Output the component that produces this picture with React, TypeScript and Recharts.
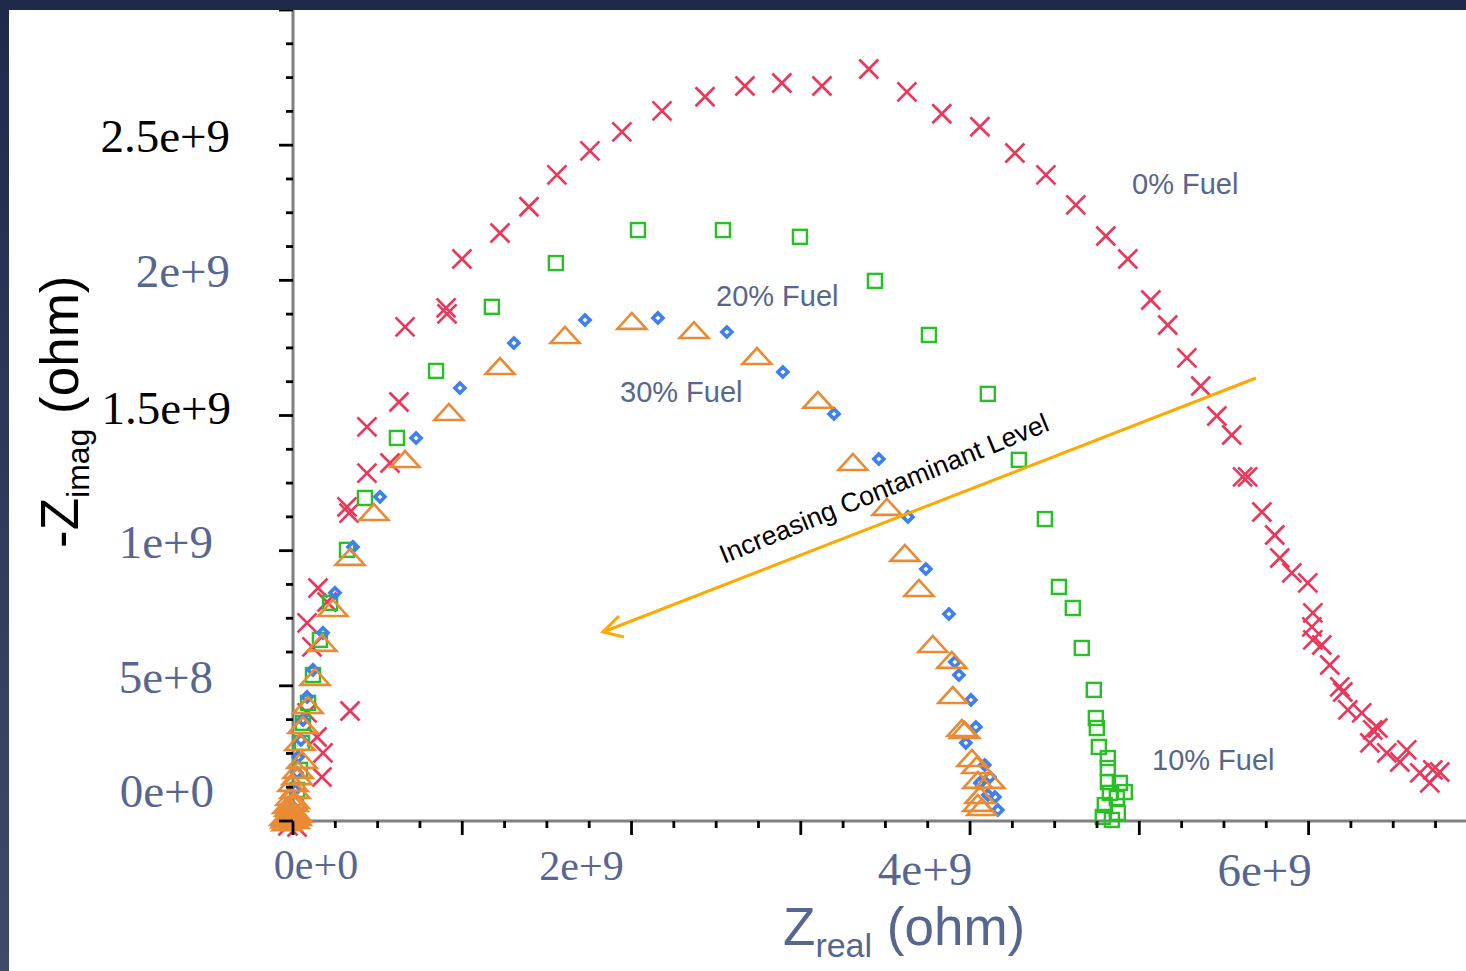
import React from "react";
import { ScatterChart, Scatter, XAxis, YAxis } from "recharts";

// impedance points in units of 1e9 ohm: [Zreal, -Zimag]
const fuel0: [number, number][] = [
  [-0.03, -0.018], [0.024, -0.022], [0.171, 0.163], [0.177, 0.252], [0.142, 0.311],
  [0.083, 0.4], [0.337, 0.407], [0.112, 0.644], [0.083, 0.733], [0.201, 0.81],
  [0.148, 0.862], [0.319, 1.162], [0.331, 1.139], [0.437, 1.287], [0.573, 1.324],
  [0.437, 1.458], [0.626, 1.55], [0.662, 1.828], [0.904, 1.898], [0.91, 1.876],
  [0.998, 2.079], [1.223, 2.175], [1.394, 2.272], [1.559, 2.39], [1.754, 2.479],
  [1.943, 2.549], [2.18, 2.627], [2.434, 2.679], [2.67, 2.719], [2.888, 2.73],
  [3.125, 2.719], [3.402, 2.782], [3.627, 2.697], [3.833, 2.616], [4.058, 2.568],
  [4.265, 2.471], [4.448, 2.39], [4.625, 2.279], [4.802, 2.164], [4.932, 2.079],
  [5.068, 1.927], [5.168, 1.835], [5.281, 1.713], [5.363, 1.609], [5.458, 1.498],
  [5.546, 1.428], [5.61, 1.273], [5.64, 1.273], [5.724, 1.143], [5.8, 1.058],
  [5.83, 0.973], [5.901, 0.918], [5.995, 0.881], [6.025, 0.77], [6.019, 0.718],
  [6.025, 0.67], [6.078, 0.651], [6.125, 0.577], [6.184, 0.496], [6.202, 0.477],
  [6.232, 0.411], [6.314, 0.4], [6.379, 0.337], [6.409, 0.344], [6.362, 0.289],
  [6.462, 0.252], [6.58, 0.263], [6.539, 0.218], [6.657, 0.178], [6.734, 0.189],
  [6.716, 0.141], [6.775, 0.181],
];

const fuel10: [number, number][] = [
  [-0.018, 0.004], [0.018, 0.059], [0.024, 0.115], [0.041, 0.189], [0.053, 0.289],
  [0.059, 0.363], [0.089, 0.437], [0.118, 0.54], [0.159, 0.67], [0.219, 0.807],
  [0.319, 1.003], [0.425, 1.195], [0.614, 1.417], [0.845, 1.665], [1.175, 1.902],
  [1.553, 2.064], [2.038, 2.186], [2.54, 2.186], [2.995, 2.161], [3.438, 1.998],
  [3.757, 1.798], [4.105, 1.58], [4.288, 1.336], [4.442, 1.117], [4.525, 0.866],
  [4.607, 0.788], [4.66, 0.64], [4.731, 0.485], [4.743, 0.381], [4.749, 0.344],
  [4.761, 0.274], [4.814, 0.233], [4.814, 0.196], [4.814, 0.144], [4.885, 0.141],
  [4.914, 0.107], [4.826, 0.104], [4.867, 0.085], [4.796, 0.059], [4.873, 0.03],
  [4.838, 0.004], [4.784, 0.015],
];

const fuel20: [number, number][] = [
  [0.006, 0.048], [0.012, 0.115], [0.024, 0.178], [0.03, 0.237], [0.047, 0.3],
  [0.059, 0.374], [0.083, 0.459], [0.118, 0.559], [0.177, 0.696], [0.248, 0.844],
  [0.354, 1.014], [0.514, 1.199], [0.727, 1.417], [0.986, 1.602], [1.305, 1.768],
  [1.725, 1.853], [2.156, 1.861], [2.563, 1.809], [2.894, 1.661], [3.196, 1.506],
  [3.461, 1.339], [3.633, 1.125], [3.739, 0.932], [3.875, 0.766], [3.91, 0.588],
  [3.934, 0.54], [4.005, 0.448], [4.034, 0.348], [3.975, 0.289], [4.087, 0.207],
  [4.117, 0.163], [4.058, 0.141], [4.105, 0.096], [4.147, 0.089], [4.164, 0.041],
];

const fuel30: [number, number][] = [
  [-0.035, -0.004], [-0.024, 0.011], [-0.006, 0.022], [0.012, 0.033], [-0.018, 0.048],
  [-0.041, 0.006], [-0.03, 0.018], [0.006, 0.004], [0.018, 0.015], [-0.012, 0.037],
  [-0.047, 0.015], [0.024, 0.026], [-0.03, 0.059], [0.006, 0.078],
  [0.0, 0.067], [-0.012, 0.089], [0.012, 0.115], [0.0, 0.141], [0.024, 0.166],
  [0.03, 0.189], [0.053, 0.226], [0.041, 0.292], [0.059, 0.355], [0.089, 0.429],
  [0.13, 0.533], [0.171, 0.659], [0.236, 0.788], [0.337, 0.977], [0.478, 1.143],
  [0.662, 1.339], [0.921, 1.513], [1.223, 1.683], [1.607, 1.798], [2.002, 1.85],
  [2.369, 1.816], [2.741, 1.72], [3.101, 1.558], [3.308, 1.328], [3.509, 1.162],
  [3.615, 0.992], [3.698, 0.862], [3.78, 0.655], [3.892, 0.596], [3.898, 0.466],
  [3.952, 0.344], [3.969, 0.337], [4.011, 0.233], [4.04, 0.207], [4.046, 0.152],
  [4.117, 0.152], [4.058, 0.096], [4.046, 0.067], [4.07, 0.052],
];

const xTickLabels: Record<number, string> = { 0: "0e+0", 2: "2e+9", 4: "4e+9", 6: "6e+9" };
const yTickLabels: Record<number, string> = {
  0: "0e+0", 0.5: "5e+8", 1: "1e+9", 1.5: "1.5e+9", 2: "2e+9", 2.5: "2.5e+9",
};

const xTicks = Array.from({ length: 28 }, (_, i) => i * 0.25);
const yTicks = Array.from({ length: 25 }, (_, i) => i * 0.125);

const SLATE = "#57668f";
const RED = "#e8385b";
const GREEN = "#27c026";
const BLUE = "#3f80ee";
const ORANGE = "#e98b34";
const SERIF = "'Liberation Serif', 'Times New Roman', serif";
const SANS = "'Liberation Sans', Arial, sans-serif";

const toPoints = (arr: [number, number][]) => arr.map(([x, y]) => ({ x, y }));

// the labels of the original sit a little off their ticks
const xLabelLook: Record<number, { dx: number; dy: number; size: number }> = {
  0: { dx: 23, dy: 58, size: 42 },
  2: { dx: -50, dy: 59, size: 42 },
  4: { dx: -45, dy: 64, size: 47 },
  6: { dx: -44, dy: 65, size: 47 },
};
const yLabelLook: Record<number, { dx: number; dy: number; fill: string }> = {
  0: { dx: -79, dy: -14, fill: SLATE },
  0.5: { dx: -80, dy: 7, fill: SLATE },
  1: { dx: -80, dy: 7, fill: SLATE },
  1.5: { dx: -62, dy: 8, fill: "#000" },
  2: { dx: -63, dy: 7, fill: SLATE },
  2.5: { dx: -63, dy: 7, fill: "#000" },
};

function XTick({ x, y, payload }: any) {
  const v = payload.value;
  const major = Math.abs(v - Math.round(v)) < 1e-6;
  const label = xTickLabels[v];
  const look = xLabelLook[v];
  return (
    <g>
      <line x1={x} x2={x} y1={y} y2={y + (major ? 14 : 7)} stroke="#000" strokeWidth={2.8} />
      {label && (
        <text x={x + look.dx} y={y + look.dy} textAnchor="middle" fontFamily={SERIF} fontSize={look.size} fill={SLATE}>
          {label}
        </text>
      )}
    </g>
  );
}

function YTick({ x, y, payload }: any) {
  const v = payload.value;
  const major = Math.abs(v * 2 - Math.round(v * 2)) < 1e-6;
  const label = yTickLabels[v];
  const look = yLabelLook[v];
  return (
    <g>
      <line x1={x - (major ? 14 : 7)} x2={x} y1={y} y2={y} stroke="#000" strokeWidth={2.8} />
      {label && (
        <text x={x + look.dx} y={y + look.dy} textAnchor="end" fontFamily={SERIF} fontSize={47} fill={look.fill}>
          {label}
        </text>
      )}
    </g>
  );
}

function CrossMark({ cx, cy }: any) {
  const r = 9.5;
  return (
    <g stroke={RED} strokeWidth={2.7}>
      <line x1={cx - r} y1={cy - r} x2={cx + r} y2={cy + r} />
      <line x1={cx - r} y1={cy + r} x2={cx + r} y2={cy - r} />
    </g>
  );
}

function SquareMark({ cx, cy }: any) {
  return <rect x={cx - 7} y={cy - 7} width={14} height={14} fill="none" stroke={GREEN} strokeWidth={2.4} />;
}

function DiamondMark({ cx, cy }: any) {
  const r = 5;
  return (
    <polygon
      points={`${cx},${cy - r} ${cx + r},${cy} ${cx},${cy + r} ${cx - r},${cy}`}
      fill="none"
      stroke={BLUE}
      strokeWidth={3.6}
    />
  );
}

function TriangleMark({ cx, cy }: any) {
  return (
    <polygon
      points={`${cx - 14.5},${cy + 8} ${cx + 14.5},${cy + 8} ${cx},${cy - 8}`}
      fill="none"
      stroke={ORANGE}
      strokeWidth={2.6}
    />
  );
}

export default function App() {
  return (
    <div style={{ position: "fixed", left: 0, top: 0, width: 1466, height: 971, background: "#fff", overflow: "hidden" }}>
      <style>{`.recharts-wrapper svg [clip-path]{clip-path:none !important}`}</style>
      <ScatterChart width={1466} height={971} margin={{ top: 10, right: 0, bottom: 0, left: 0 }}>
        <XAxis
          type="number"
          dataKey="x"
          domain={[0, 6.93]}
          allowDataOverflow
          ticks={xTicks}
          interval={0}
          height={150}
          tickSize={0}
          tickMargin={0}
          tickLine={false}
          tick={<XTick />}
          axisLine={{ stroke: "#808080", strokeWidth: 3 }}
        />
        <YAxis
          type="number"
          dataKey="y"
          domain={[0, 3]}
          allowDataOverflow
          ticks={yTicks}
          interval={0}
          width={293}
          tickSize={0}
          tickMargin={0}
          tickLine={false}
          tick={<YTick />}
          axisLine={{ stroke: "#808080", strokeWidth: 3 }}
        />
        <Scatter data={toPoints(fuel0)} isAnimationActive={false} shape={(p: any) => <CrossMark {...p} />} />
        <Scatter data={toPoints(fuel10)} isAnimationActive={false} shape={(p: any) => <SquareMark {...p} />} />
        <Scatter data={toPoints(fuel20)} isAnimationActive={false} shape={(p: any) => <DiamondMark {...p} />} />
        <Scatter data={toPoints(fuel30)} isAnimationActive={false} shape={(p: any) => <TriangleMark {...p} />} />
      </ScatterChart>

      <svg width={1466} height={971} style={{ position: "absolute", left: 0, top: 0, pointerEvents: "none" }}>
        <defs>
          <linearGradient id="frameSide" x1="0" y1="0" x2="0" y2="1">
            <stop offset="0%" stopColor="#1f2a4b" />
            <stop offset="100%" stopColor="#3f4a69" />
          </linearGradient>
        </defs>
        <rect x={0} y={0} width={1466} height={10} fill="#1f2a4b" />
        <rect x={0} y={0} width={9} height={971} fill="url(#frameSide)" />

        <text transform="translate(78,548) rotate(-90)" fontFamily={SANS} fontSize={53} fill="#000">
          -Z<tspan fontSize={32} dy={11}>imag</tspan>
          <tspan dy={-11}> (ohm)</tspan>
        </text>
        <text x={783} y={945} fontFamily={SANS} fontSize={53} fill={SLATE}>
          Z<tspan fontSize={34} dy={12}>real</tspan>
          <tspan dy={-12}> (ohm)</tspan>
        </text>

        <g fontFamily={SANS} fontSize={29} fill={SLATE}>
          <text x={1132} y={194}>0% Fuel</text>
          <text x={716} y={306}>20% Fuel</text>
          <text x={620} y={402}>30% Fuel</text>
          <text x={1152} y={770}>10% Fuel</text>
        </g>

        <line x1={1256} y1={378} x2={603} y2={632} stroke="#ffa800" strokeWidth={3} />
        <polyline points="619,616 603,632 624,637" fill="none" stroke="#ffa800" strokeWidth={3} />
        <text transform="translate(724,564) rotate(-22.3)" fontFamily={SANS} fontSize={26.7} fill="#000">
          Increasing Contaminant Level
        </text>
      </svg>
    </div>
  );
}
